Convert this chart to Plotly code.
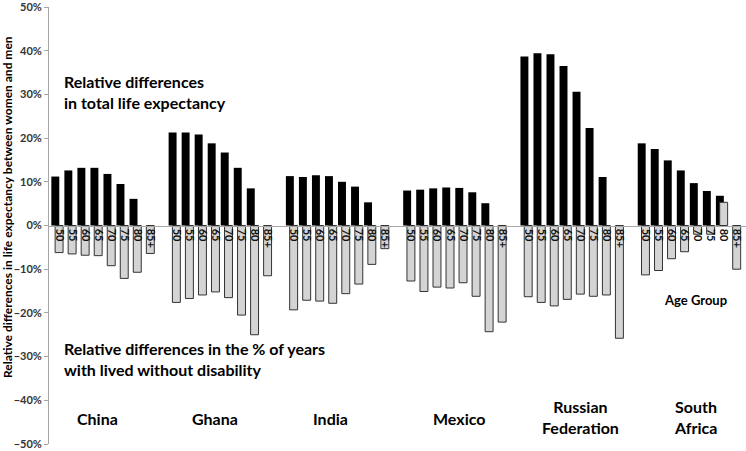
import plotly.graph_objects as go

countries = ["China", "Ghana", "India", "Mexico", "Russian Federation", "South Africa"]
age_groups = ["50", "55", "60", "65", "70", "75", "80", "85+"]

# relative differences in total life expectancy (%), no value for 85+
total_le = {
    "China":              [11.2, 12.6, 13.2, 13.2, 11.8, 9.5, 6.1, None],
    "Ghana":              [21.3, 21.3, 20.8, 18.8, 16.7, 13.2, 8.5, None],
    "India":              [11.3, 11.1, 11.5, 11.3, 10.0, 8.9, 5.3, None],
    "Mexico":             [8.0, 8.2, 8.5, 8.7, 8.6, 7.6, 5.1, None],
    "Russian Federation": [38.7, 39.4, 39.2, 36.5, 30.6, 22.3, 11.1, None],
    "South Africa":       [18.8, 17.5, 14.9, 12.6, 9.7, 7.9, 6.8, None],
}

# relative differences in % of years lived without disability (%)
disab_free = {
    "China":              [-6.2, -6.5, -6.8, -6.9, -9.2, -12.1, -10.7, -6.4],
    "Ghana":              [-17.6, -16.7, -15.9, -15.2, -16.5, -20.5, -25.0, -11.5],
    "India":              [-19.3, -17.1, -17.3, -17.8, -15.6, -13.4, -8.9, -5.3],
    "Mexico":             [-12.7, -15.1, -14.1, -14.3, -13.1, -16.2, -24.3, -22.1],
    "Russian Federation": [-16.3, -17.6, -18.4, -16.9, -15.7, -16.2, -15.9, -25.8],
    "South Africa":       [-11.3, -10.3, -7.6, -6.0, -2.0, -2.0, 5.3, -10.0],
}

# one empty slot between countries
xs, black, grey, labels = [], [], [], []
for g, c in enumerate(countries):
    for a, age in enumerate(age_groups):
        xs.append(g * 9 + a)
        black.append(total_le[c][a])
        grey.append(disab_free[c][a])
        labels.append(age)

W, H = 746, 451
L, T, B = 49, 7, 7
def px(x):
    return (x - L) / (W - L)
def py(y):
    return (H - B - y) / (H - T - B)

fig = go.Figure()
fig.add_trace(go.Bar(x=xs, y=black, marker=dict(color="#000000", line=dict(width=0)),
                     width=0.61, offset=-0.45, showlegend=False))
fig.add_trace(go.Bar(x=xs, y=grey, marker=dict(color="#d4d4d4", line=dict(color="#333333", width=1)),
                     width=0.61, offset=-0.16, showlegend=False))

font = "Lato, 'Open Sans', sans-serif"
big = dict(family=font, size=16, color="#000000", weight="bold")

notes = [
    ("Relative differences<br>in total life expectancy", 62, 92, "left"),
    ("Relative differences in the % of years<br>with lived without disability", 62, 359, "left"),
    ("China", 75, 418, "left"),
    ("Ghana", 190, 418, "left"),
    ("India", 311, 418, "left"),
    ("Mexico", 431, 418, "left"),
    ("South<br>Africa", 672, 417, "left"),
]
for txt, x, y, al in notes:
    fig.add_annotation(text=txt, xref="paper", yref="paper", x=px(x), y=py(y),
                       xanchor="left", yanchor="middle", align=al, showarrow=False, font=big)
fig.add_annotation(text="Russian<br>Federation", xref="paper", yref="paper", x=px(580), y=py(417),
                   xanchor="center", yanchor="middle", align="center", showarrow=False, font=big)
fig.add_annotation(text="Age Group", xref="paper", yref="paper", x=px(662), y=py(300),
                   xanchor="left", yanchor="middle", showarrow=False,
                   font=dict(family=font, size=13, color="#000000", weight="bold"))
# y axis title
fig.add_annotation(text="Relative differences in life expectancy between women and men",
                   xref="paper", yref="paper", x=px(7), y=py(207), textangle=-90,
                   xanchor="center", yanchor="middle", showarrow=False,
                   font=dict(family=font, size=12, color="#000000", weight="bold"))

fig.update_layout(
    width=W, height=H,
    margin=dict(l=L, r=0, t=T, b=B),
    paper_bgcolor="white", plot_bgcolor="white",
    barmode="overlay",
    xaxis=dict(range=[-0.63, 52.86], anchor="free", position=0.5, automargin=False,
               tickmode="array", tickvals=[x + 0.15 for x in xs], ticktext=labels,
               tickangle=90, ticks="", showline=True, linecolor="#a6a6a6", linewidth=1,
               showgrid=False, zeroline=False,
               tickfont=dict(family=font, size=11, color="#111111", weight="bold")),
    yaxis=dict(range=[-50, 50], dtick=10, ticksuffix="%", showgrid=False, zeroline=False,
               automargin=False, ticklabeloverflow="allow",
               showline=True, linecolor="#a6a6a6", ticks="outside", ticklen=4, tickcolor="#a6a6a6",
               tickfont=dict(family=font, size=11, color="#333333", weight="bold")),
)

# page body has a default 8px margin; remove it so the figure sits at the window corner
fig.write_html("out.html", config={"displayModeBar": False},
               post_script="document.body.style.margin='0';")
